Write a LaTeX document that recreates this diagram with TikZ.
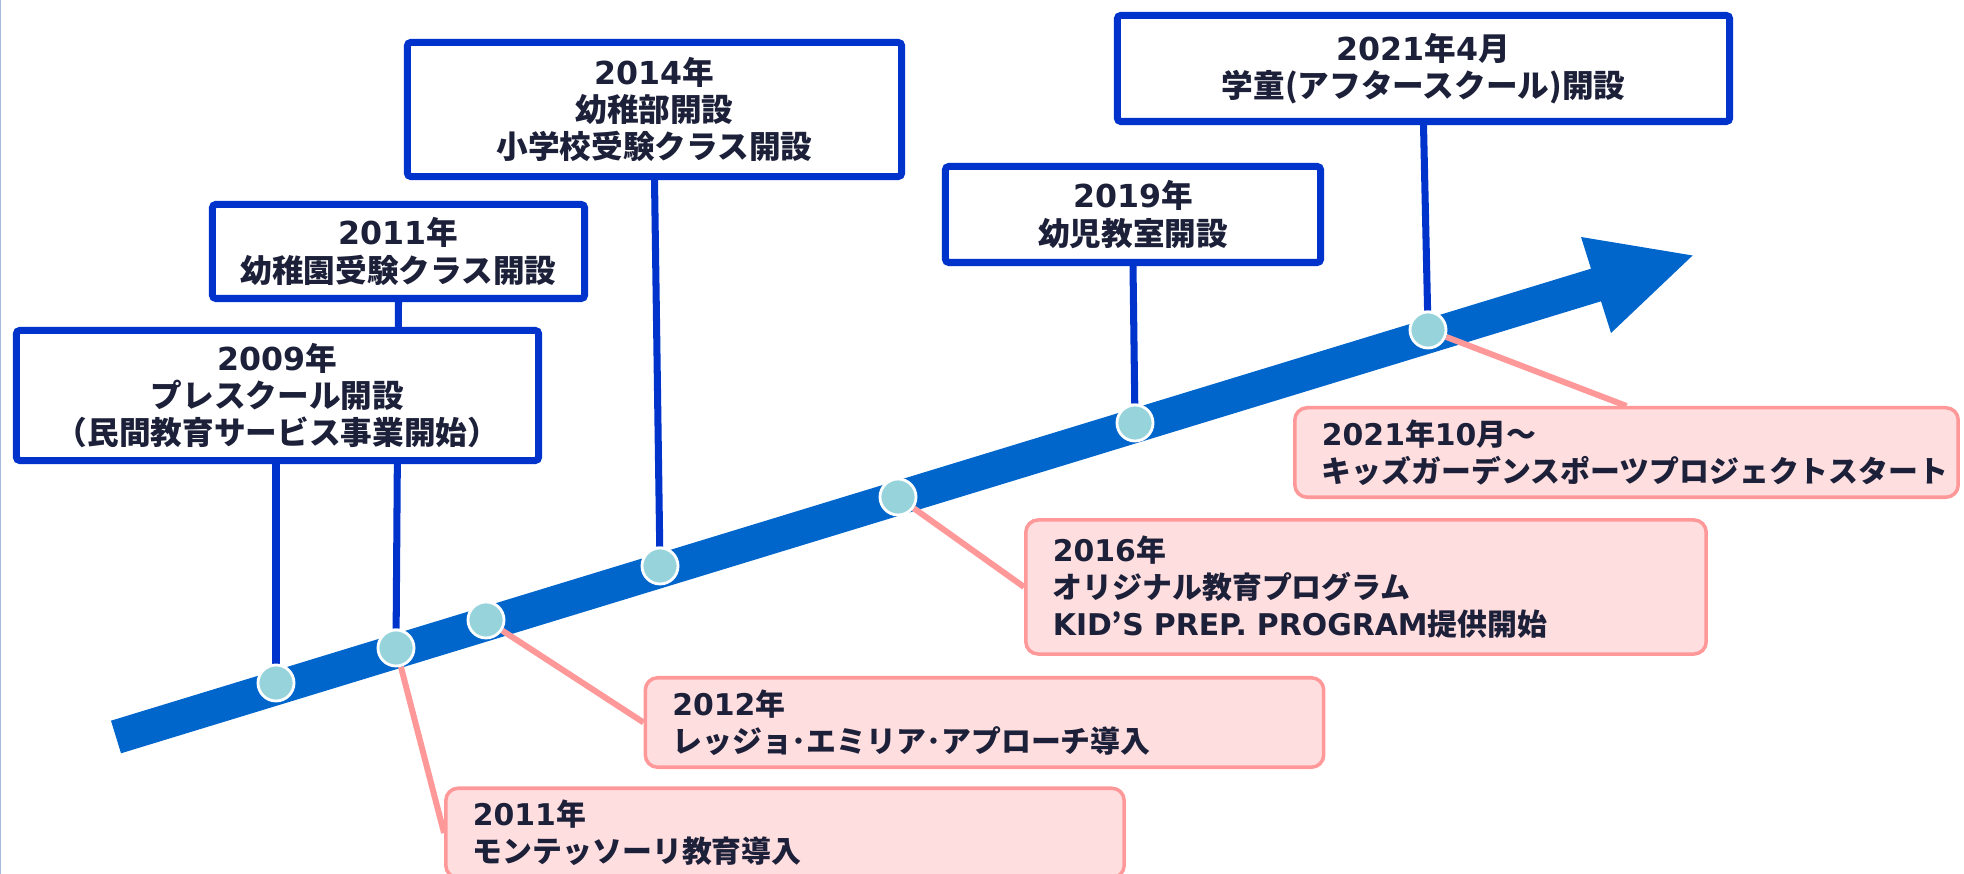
\documentclass[tikz,border=0pt]{standalone}
\usepackage{fontspec}
\setmainfont{Noto Sans CJK JP}
\newfontfamily\lat{DejaVu Sans}
\usetikzlibrary{backgrounds}
\definecolor{boxblue}{HTML}{0033CC}
\definecolor{arrowblue}{HTML}{0066CC}
\definecolor{dotfill}{HTML}{96D3DB}
\definecolor{pinkline}{HTML}{FF9999}
\definecolor{pinkfill}{HTML}{FFDEE0}
\definecolor{ink}{HTML}{1C2039}
\definecolor{edgeline}{HTML}{A8B8DC}
\tikzset{
    yearbox/.style = {rectangle, draw=boxblue, line width=2pt, fill=white, rounded corners=1pt, align=center, text=ink, font=\fontsize{9}{10.6}\selectfont\bfseries},
    eventbox/.style = {rectangle, draw=pinkline, line width=1pt, fill=pinkfill, rounded corners=3.5pt, align=left, inner xsep=0.27cm, text=ink, font=\fontsize{8.5}{10.6}\selectfont\bfseries},
    dot/.style = {circle, draw=white, line width=0.8pt, fill=dotfill, minimum size=0.36cm, inner sep=0pt},
    linkb/.style = {line width=2pt, boxblue}, % up
    linkp/.style = {line width=1.7pt, pinkline}, % down
}
\begin{document}
\begin{tikzpicture}[x=0.01cm, y=-0.01cm]
  \useasboundingbox (0,0) rectangle (1964,874);
  \clip (0,0) rectangle (1964,874);
  \draw[edgeline, line width=0.6pt] (0.3,0) -- (0.3,874);

  % dots on the time line
  \node[dot] (c1) at (276,683) {};
  \node[dot] (c2) at (396,648) {};
  \node[dot] (c3) at (486,620) {};
  \node[dot] (c4) at (660,566) {};
  \node[dot] (c5) at (898,497) {};
  \node[dot] (c6) at (1135,423) {};
  \node[dot] (c7) at (1428,330) {};

  % blue boxes
  \node[yearbox, minimum width=5.22cm, minimum height=1.30cm] (b2009) at (277.5,395.5)
    {{\lat 2009}年\\プレスクール開設\\（民間教育サービス事業開始）};
  \node[yearbox, minimum width=3.72cm, minimum height=0.94cm] (b2011) at (398.5,251.5)
    {{\lat 2011}年\\幼稚園受験クラス開設};
  \node[yearbox, minimum width=4.94cm, minimum height=1.34cm] (b2014) at (654.5,109.5)
    {{\lat 2014}年\\幼稚部開設\\小学校受験クラス開設};
  \node[yearbox, minimum width=3.75cm, minimum height=0.96cm] (b2019) at (1133,214.5)
    {{\lat 2019}年\\幼児教室開設};
  \node[yearbox, minimum width=6.12cm, minimum height=1.06cm] (b2021) at (1423.5,68.5)
    {{\lat 2021}年{\lat 4}月\\学童(アフタースクール)開設};

  % pink boxes
  \node[eventbox, text width=6.24cm, minimum height=0.87cm] (p2011) at (785,833)
    {{\lat 2011}年\\モンテッソーリ教育導入};
  \node[eventbox, text width=6.24cm, minimum height=0.87cm] (p2012) at (984.5,722.5)
    {{\lat 2012}年\\レッジョ･エミリア･アプローチ導入};
  \node[eventbox, text width=6.26cm, minimum height=1.34cm] (p2016) at (1366,587)
    {{\lat 2016}年\\オリジナル教育プログラム\\{\lat KID}’{\lat S PREP. PROGRAM}提供開始};
  \node[eventbox, text width=6.09cm, minimum height=0.87cm] (p2021) at (1626.5,452.5)
    {{\lat 2021}年{\lat 10}月～\\キッズガーデンスポーツプロジェクトスタート};

  \begin{scope}[on background layer]
    \fill[arrowblue] (111,720.7) -- (1591,268.7) -- (1581,237) -- (1692.6,255.5)
      -- (1611,333) -- (1601,301.3) -- (121,753.3) -- cycle;
    \draw[linkb] (b2009.south -| c1) -- (c1);
    \draw[linkb] (b2011.south) -- (c2);
    \draw[linkb] (b2014.south) -- (c4);
    \draw[linkb] (b2019.south) -- (c6);
    \draw[linkb] (b2021.south) -- (c7);
    \draw[linkp] (c2) -- (p2011.west);
    \draw[linkp] (c3) -- (p2012.west);
    \draw[linkp] (c5) -- (p2016.west);
    \draw[linkp] (c7) -- (p2021.north);
  \end{scope}
\end{tikzpicture}
\end{document}
